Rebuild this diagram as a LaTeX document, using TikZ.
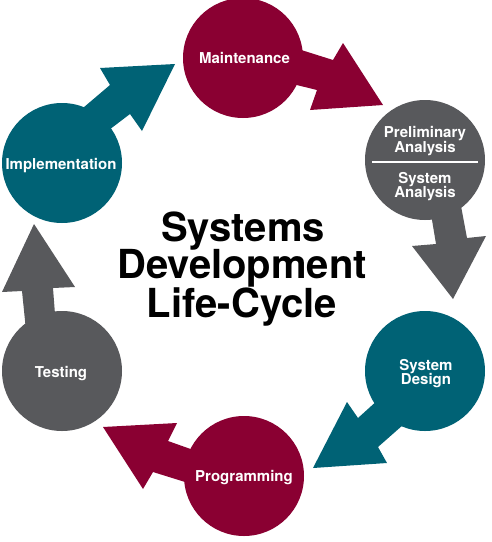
\documentclass[tikz,border=0pt]{standalone}
\usepackage{fontspec}
\setmainfont{TeX Gyre Heros}
\definecolor{sdmaroon}{RGB}{138,0,50}
\definecolor{sdteal}{RGB}{0,98,117}
\definecolor{sdgray}{RGB}{88,89,92}
\begin{document}
\begin{tikzpicture}[x=1pt,y=-1pt,
  phase/.style={circle, minimum size=120pt, inner sep=0pt},
  lbl/.style={text=white, font=\bfseries\fontsize{15}{15}\selectfont, anchor=base, inner sep=0pt},
  ttl/.style={text=black, font=\bfseries\fontsize{40}{38}\selectfont, anchor=base, inner sep=0pt}]
\useasboundingbox[fill=white] (0,0) rectangle (492,542);

% phase circles
\node[phase, fill=sdmaroon] (maint)  at (243,58)  {};
\node[phase, fill=sdgray]   (prelim) at (425,160) {};
\node[phase, fill=sdteal]   (design) at (425,371) {};
\node[phase, fill=sdmaroon] (prog)   at (244,476) {};
\node[phase, fill=sdgray]   (test)   at (62,371)  {};
\node[phase, fill=sdteal]   (impl)   at (62,163)  {};

% block arrows leaving each circle
\fill[sdmaroon, shift={(maint.center)}]
  (17,-21) -- (90,2) -- (100,-15) -- (140,47) -- (67,52) -- (74,32) -- (17,18) -- cycle;
\fill[sdgray, shift={(prelim.center)}]
  (2,30) -- (11,84) -- (-13,86) -- (28,139) -- (61,76) -- (42,78) -- (33,30) -- cycle;
\fill[sdteal, shift={(design.center)}]
  (-25,9) -- (-67,47) -- (-78,31) -- (-112,97) -- (-38,92) -- (-47,76) -- (-5,39) -- cycle;
\fill[sdmaroon, shift={(prog.center)}]
  (-14,-13) -- (-76,-35) -- (-67,-53) -- (-141,-49) -- (-101,13) -- (-91,-4) -- (-14,20) -- cycle;
\fill[sdgray, shift={(test.center)}]
  (-35,-31) -- (-40,-80) -- (-60,-79) -- (-28,-147) -- (13,-84) -- (-9,-83) -- (-5,-31) -- cycle;
\fill[sdteal, shift={(impl.center)}]
  (-12,-27) -- (48,-78) -- (38,-95) -- (113,-99) -- (80,-32) -- (68,-49) -- (18,-11) -- cycle;

% labels
\node[lbl] (tmaint) at (244.5,63) {Maintenance};
\node[lbl] (tpre1) at (425,137.5) {Preliminary};
\node[lbl] (tpre2) at (425,152) {Analysis};
\draw[white, line width=1.8pt] ([shift={(-53,2)}]prelim.center) -- ([shift={(53,2)}]prelim.center);
\node[lbl] (tsys1) at (425,183) {System};
\node[lbl] (tsys2) at (425,197) {Analysis};
\node[lbl] (tdes1) at (426,370) {System};
\node[lbl] (tdes2) at (426,384) {Design};
\node[lbl] (tprog) at (244,481) {Programming};
\node[lbl] (ttest) at (61,377) {Testing};
\node[lbl] (timpl) at (61,169) {Implementation};

% title
\node[ttl] (title1) at (243,241) {Systems};
\node[ttl] (title2) at (242,278) {Development};
\node[ttl] (title3) at (242,317) {Life-Cycle};
\end{tikzpicture}
\end{document}
